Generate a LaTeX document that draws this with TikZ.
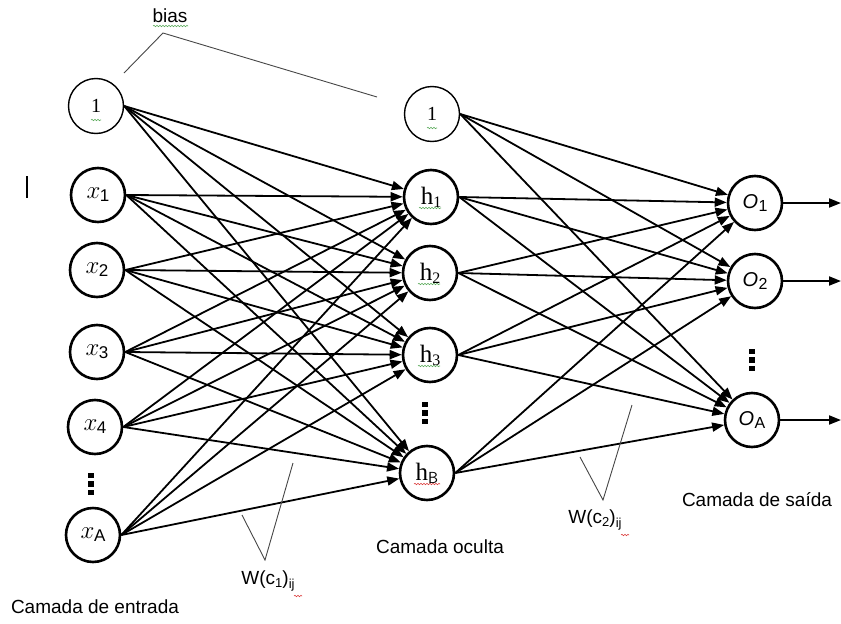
\documentclass[tikz,border=0pt]{standalone}
\usepackage{fontspec}
\setmainfont{Liberation Sans}
\newfontfamily\seriffont{Liberation Serif}
\usetikzlibrary{arrows.meta,decorations.pathmorphing,calc}

\definecolor{spellgreen}{RGB}{90,170,90}
\definecolor{spellred}{RGB}{220,60,60}
\definecolor{pointergray}{RGB}{70,70,70}

\newcommand{\inlab}[1]{{\fontsize{30}{30}\selectfont$x$}\kern-0.5pt\raisebox{-3pt}{\fontsize{17}{17}\selectfont #1}}
\newcommand{\hidlab}[1]{{\seriffont\fontsize{25}{25}\selectfont h\raisebox{-3pt}{\fontsize{16}{16}\selectfont #1}}}
\newcommand{\outlab}[1]{{\fontsize{20}{20}\selectfont\itshape O\kern0.5pt\raisebox{-3pt}{\upshape\fontsize{16}{16}\selectfont #1}}}
\newcommand{\onelab}{{\seriffont\fontsize{20}{20}\selectfont 1}}

\tikzset{
  neuron/.style={circle, draw, line width=2.6pt, minimum size=54pt, inner sep=0pt},
  biasnode/.style={circle, draw, line width=1.4pt, minimum size=55pt, inner sep=0pt},
  conn/.style={line width=1.8pt, -{Triangle[length=12pt,width=9pt]}},
  lbl/.style={font=\fontsize{19}{22}\selectfont, inner sep=0pt},
  pointer/.style={line width=0.9pt, draw=pointergray},
  squig/.style={decorate, decoration={snake, segment length=3pt, amplitude=0.7pt}, line width=0.6pt},
  vdot/.style={fill=black, minimum size=5.5pt, inner sep=0pt},
}

\begin{document}
\begin{tikzpicture}[x=1pt, y=-1pt]
  \useasboundingbox (0,0) rectangle (841,624);

  % text cursor mark at the left
  \draw[line width=1.4pt] (27,176) -- (27,198);

  % input layer
  \node[biasnode] (b1) at (96,106) {\onelab};
  \node[neuron] (x1) at (98,195) {\inlab{1}};
  \node[neuron] (x2) at (97,270) {\inlab{2}};
  \node[neuron] (x3) at (97,352) {\inlab{3}};
  \node[neuron] (x4) at (95,427) {\inlab{4}};
  \node[neuron] (xA) at (93,535) {\inlab{A}};
  \coordinate (dx) at (91,484);

  % hidden layer
  \node[biasnode] (b2) at (432,114) {\onelab};
  \node[neuron] (h1) at (431,197) {\hidlab{1}};
  \node[neuron] (h2) at (430,273) {\hidlab{2}};
  \node[neuron] (h3) at (430,355) {\hidlab{3}};
  \node[neuron] (hB) at (427,473) {\hidlab{\sffamily B}};
  \coordinate (dh) at (425,413);

  % output layer
  \node[neuron] (o1) at (755,203) {\outlab{1}};
  \node[neuron] (o2) at (755,281) {\outlab{2}};
  \node[neuron] (oA) at (752,420) {\outlab{A}};
  \coordinate (do) at (752,360);

  % vertical ellipses
  \foreach \d in {dx,dh,do} {
    \node[vdot] at ($(\d)+(0,-8.5)$) {};
    \node[vdot] at (\d) {};
    \node[vdot] at ($(\d)+(0,8.5)$) {};
  }

  % weights input -> hidden
  \foreach \s in {b1,x1,x2,x3,x4,xA}
    \foreach \t in {h1,h2,h3,hB}
      \draw[conn] (\s.east) -- (\t);

  % weights hidden -> output
  \foreach \s in {b2,h1,h2,h3,hB}
    \foreach \t in {o1,o2,oA}
      \draw[conn] (\s.east) -- (\t);

  % outputs
  \coordinate (e1) at (841,203);
  \coordinate (e2) at (841,281);
  \coordinate (eA) at (841,420);
  \draw[conn] (o1) -- (e1);
  \draw[conn] (o2) -- (e2);
  \draw[conn] (oA) -- (eA);

  % bias label and pointer
  \node[lbl] (bias) at (170,16) {bias};
  \coordinate (bp) at (163,33);
  \coordinate (bpl) at (124,73);
  \coordinate (bpr) at (377,97);
  \draw[pointer] (bpl) -- (bp) -- (bpr);

  % weight labels and pointers
  \node[lbl] (w1) at (268,581) {W(c\raisebox{-3pt}{\fontsize{13}{13}\selectfont 1})\raisebox{-4pt}{\fontsize{13}{13}\selectfont ij}};
  \coordinate (w1l) at (242,515);
  \coordinate (w1m) at (265,560);
  \coordinate (w1r) at (293,463);
  \draw[pointer] (w1l) -- (w1m) -- (w1r);

  \node[lbl] (w2) at (595,520) {W(c\raisebox{-3pt}{\fontsize{13}{13}\selectfont 2})\raisebox{-4pt}{\fontsize{13}{13}\selectfont ij}};
  \coordinate (w2l) at (580,457);
  \coordinate (w2m) at (603,500);
  \coordinate (w2r) at (632,405);
  \draw[pointer] (w2l) -- (w2m) -- (w2r);

  % layer captions
  \node[lbl] (cin) at (95,607) {Camada de entrada};
  \node[lbl] (chid) at (440,547) {Camada oculta};
  \node[lbl] (cout) at (757,500) {Camada de saída};

  % spell-check underlines
  \draw[squig, spellgreen] (153,26) -- (188,26);
  \draw[squig, spellgreen] ($(b1)+(-5,14)$) -- ($(b1)+(5,14)$);
  \draw[squig, spellgreen] ($(b2)+(-5,14)$) -- ($(b2)+(5,14)$);
  \draw[squig, spellgreen] ($(h1)+(-12,11)$) -- ($(h1)+(10,11)$);
  \draw[squig, spellgreen] ($(h2)+(-12,11)$) -- ($(h2)+(10,11)$);
  \draw[squig, spellgreen] ($(h3)+(-12,11)$) -- ($(h3)+(10,11)$);
  \draw[squig, spellred] ($(hB)+(-13,11)$) -- ($(hB)+(13,11)$);
  \draw[squig, spellred] (294,596) -- (302,596);
  \draw[squig, spellred] (621,535) -- (629,535);
\end{tikzpicture}
\end{document}
